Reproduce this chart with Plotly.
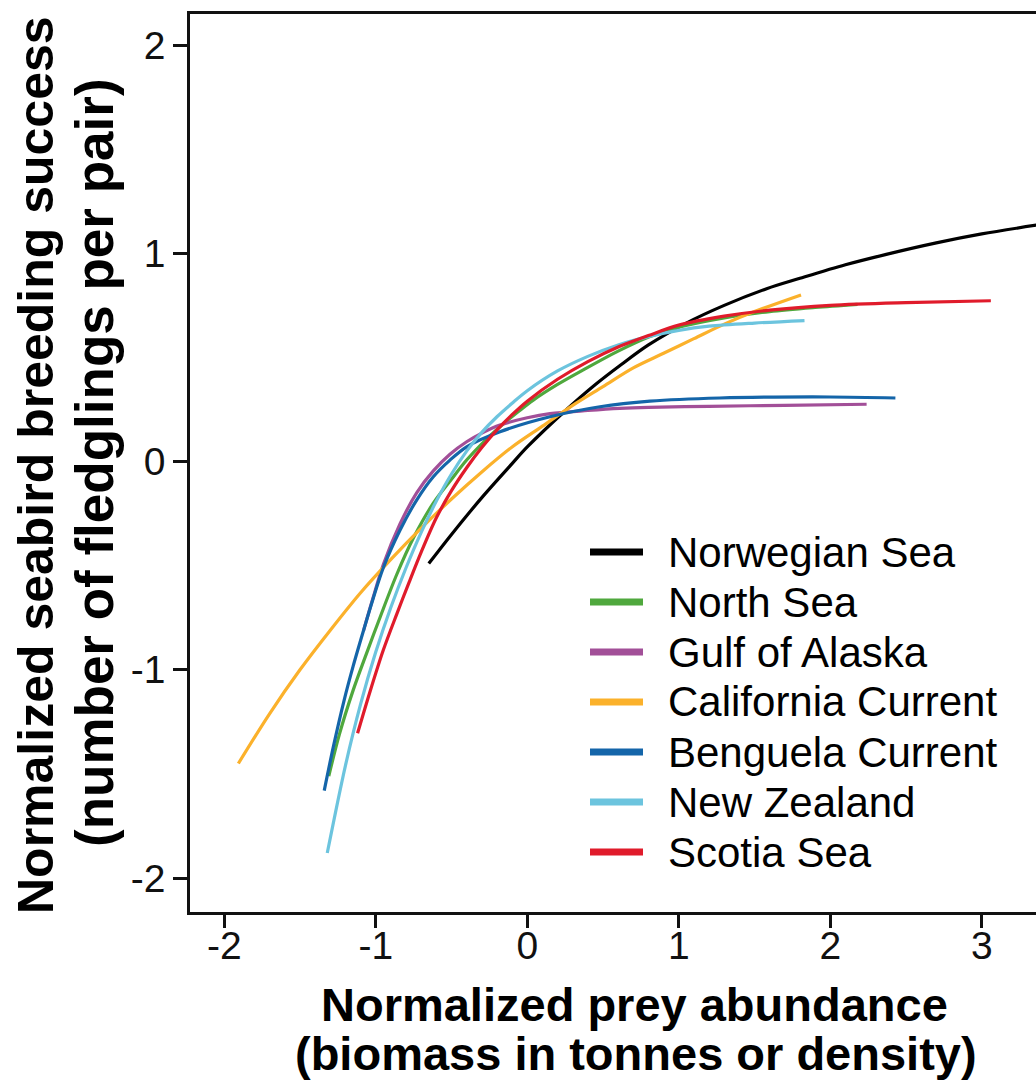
import plotly.graph_objects as go

# ---------------- data ----------------
series_names = ["Norwegian Sea", "North Sea", "Gulf of Alaska", "California Current",
                "Benguela Current", "New Zealand", "Scotia Sea"]
series_colors = ["#000000", "#4fa83d", "#a24f98", "#fbb12b", "#1465a9", "#6cc4de", "#e01b2b"]

norwegian_x = [-0.65, -0.5, -0.29, -0.1, 0.0, 0.26, 0.45, 0.61, 0.8, 1.05, 1.3, 1.58, 1.8, 2.1, 2.37, 2.7, 3.0, 3.36]
norwegian_y = [-0.49, -0.35, -0.165, -0.01, 0.07, 0.25, 0.37, 0.46, 0.56, 0.665, 0.75, 0.83, 0.88, 0.945, 0.995, 1.05, 1.093, 1.135]

north_x = [-1.31, -1.24, -1.15, -1.06, -0.97, -0.86, -0.75, -0.62, -0.5, -0.4, -0.3, -0.18, -0.05, 0.04, 0.2, 0.37, 0.6, 0.81, 1.0, 1.3, 1.6, 1.9, 2.18]
north_y = [-1.51, -1.31, -1.10, -0.92, -0.745, -0.54, -0.365, -0.20, -0.085, 0.007, 0.085, 0.167, 0.245, 0.295, 0.37, 0.44, 0.53, 0.60, 0.645, 0.69, 0.72, 0.74, 0.755]

alaska_x = [-1.08, -1.02, -0.95, -0.84, -0.73, -0.62, -0.51, -0.4, -0.29, -0.18, 0.0, 0.15, 0.4, 0.61, 0.8, 1.2, 1.7, 2.24]
alaska_y = [-0.81, -0.66, -0.495, -0.30, -0.15, -0.045, 0.035, 0.095, 0.14, 0.175, 0.21, 0.23, 0.245, 0.255, 0.26, 0.265, 0.27, 0.275]

california_x = [-1.907, -1.7, -1.5, -1.3, -1.1, -0.9, -0.7, -0.5, -0.3, -0.1, 0.1, 0.3, 0.5, 0.7, 0.9, 1.1, 1.3, 1.5, 1.807]
california_y = [-1.45, -1.21, -1.00, -0.81, -0.63, -0.47, -0.32, -0.18, -0.05, 0.07, 0.17, 0.27, 0.36, 0.45, 0.52, 0.59, 0.66, 0.72, 0.80]

benguela_x = [-1.34, -1.28, -1.21, -1.15, -1.08, -1.02, -0.95, -0.84, -0.73, -0.62, -0.51, -0.4, -0.18, 0.15, 0.48, 0.81, 1.27, 2.0, 2.43]
benguela_y = [-1.58, -1.37, -1.15, -0.985, -0.81, -0.665, -0.51, -0.33, -0.185, -0.073, 0.007, 0.071, 0.143, 0.215, 0.263, 0.29, 0.305, 0.31, 0.305]

newzealand_x = [-1.32, -1.2, -1.1, -1.0, -0.9, -0.8, -0.7, -0.6, -0.5, -0.4, -0.3, -0.2, -0.1, 0.0, 0.2, 0.4, 0.6, 0.8, 1.0, 1.2, 1.5, 1.83]
newzealand_y = [-1.88, -1.46, -1.165, -0.915, -0.70, -0.51, -0.34, -0.19, -0.06, 0.05, 0.14, 0.215, 0.28, 0.34, 0.435, 0.505, 0.56, 0.60, 0.63, 0.65, 0.665, 0.677]

scotia_x = [-1.12, -1.04, -0.95, -0.86, -0.78, -0.7, -0.6, -0.5, -0.4, -0.3, -0.2, -0.1, 0.0, 0.2, 0.4, 0.6, 0.8, 1.0, 1.3, 1.6, 2.0, 2.5, 3.06]
scotia_y = [-1.305, -1.11, -0.905, -0.73, -0.58, -0.435, -0.27, -0.14, -0.03, 0.067, 0.152, 0.225, 0.29, 0.395, 0.48, 0.55, 0.605, 0.655, 0.698, 0.727, 0.75, 0.763, 0.772]

x_tick_vals = [-2, -1, 0, 1, 2, 3]
x_tick_text = ["-2", "-1", "0", "1", "2", "3"]
y_tick_vals = [-2, -1, 0, 1, 2]
y_tick_text = ["-2", "-1", "0", "1", "2"]

x_title_lines = ["Normalized prey abundance", "(biomass in tonnes or density)"]
y_title_lines = ["Normalized seabird breeding success", "(number of fledglings per pair)"]

series_x = [norwegian_x, north_x, alaska_x, california_x, benguela_x, newzealand_x, scotia_x]
series_y = [norwegian_y, north_y, alaska_y, california_y, benguela_y, newzealand_y, scotia_y]

# ---------------- layout geometry (pixels) ----------------
W, H = 1036, 1081
L, R, T, B = 190, 0, 14, 169
plot_w = W - L - R
plot_h = H - T - B


def px_x(px):
    return (px - L) / plot_w


def px_y(py):
    return (H - B - py) / plot_h


fig = go.Figure()
for name, xs, ys, color in zip(series_names, series_x, series_y, series_colors):
    fig.add_trace(go.Scatter(
        x=xs, y=ys, mode="lines", name=name,
        line=dict(color=color, width=3.2, shape="spline", smoothing=0.9),
        showlegend=False, hoverinfo="name+x+y",
    ))

tick_font = dict(family="Liberation Sans, Arial, Helvetica, sans-serif", size=39, color="#111111")

fig.update_layout(
    width=W, height=H,
    margin=dict(l=L, r=R, t=T, b=B, pad=0),
    paper_bgcolor="white", plot_bgcolor="white",
    showlegend=False,
    font=tick_font,
    xaxis=dict(
        range=[-2.226, 3.358], tickmode="array", tickvals=x_tick_vals, ticktext=x_tick_text,
        showline=True, mirror=True, linecolor="#111111", linewidth=2.5,
        ticks="outside", ticklen=13, tickwidth=2.5, tickcolor="#111111",
        showgrid=False, zeroline=False, tickfont=tick_font, ticklabelstandoff=-16,
    ),
    yaxis=dict(
        range=[-2.163, 2.149], tickmode="array", tickvals=y_tick_vals, ticktext=y_tick_text,
        showline=True, mirror=False, linecolor="#111111", linewidth=2.5,
        ticks="outside", ticklen=14, tickwidth=2.5, tickcolor="#111111",
        showgrid=False, zeroline=False, tickfont=tick_font,
    ),
)

# axis titles (two lines each)
title_font = dict(family="Liberation Sans, Arial, Helvetica, sans-serif", size=47, color="#000000", weight=700)
annotations = []
for text, cx, cy in zip(x_title_lines, [634, 636], [1004, 1053]):
    annotations.append(dict(text=text, x=px_x(cx), y=px_y(cy), xref="paper", yref="paper",
                            xanchor="center", yanchor="middle", showarrow=False, font=title_font))
for text, cx, cy, fs in zip(y_title_lines, [36, 94], [465, 463], [50, 53]):
    annotations.append(dict(text=text, x=px_x(cx), y=px_y(cy), xref="paper", yref="paper",
                            xanchor="center", yanchor="middle", showarrow=False, textangle=-90,
                            font=dict(family="Liberation Sans, Arial, Helvetica, sans-serif",
                                      size=fs, color="#000000", weight=700)))

# legend (key lines + labels)
legend_font = dict(family="Liberation Sans, Arial, Helvetica, sans-serif", size=42, color="#000000")
shapes = []
row0, pitch = 552, 50
for i, (name, color) in enumerate(zip(series_names, series_colors)):
    ry = row0 + i * pitch
    shapes.append(dict(type="line", xref="paper", yref="paper",
                       x0=px_x(590), x1=px_x(643), y0=px_y(ry), y1=px_y(ry),
                       line=dict(color=color, width=7)))
    annotations.append(dict(text=name, x=px_x(666), y=px_y(ry), xref="paper", yref="paper",
                            xanchor="left", yanchor="middle", showarrow=False, font=legend_font))

fig.update_layout(annotations=annotations, shapes=shapes)

fig.write_html("out.html")
